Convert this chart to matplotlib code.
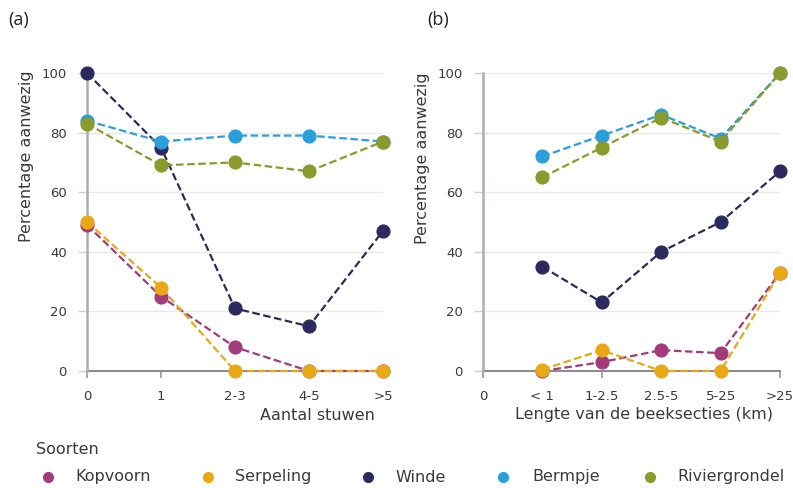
import matplotlib
matplotlib.use("Agg")
import matplotlib.pyplot as plt
from matplotlib.lines import Line2D

plt.rcParams['font.family'] = ['DejaVu Sans']

species = ["Kopvoorn", "Serpeling", "Winde", "Bermpje", "Riviergrondel"]
colors = ["#A33B7B", "#E9A916", "#2C2A5E", "#2A9FDA", "#8A9A2C"]

cats_a = ["0", "1", "2-3", "4-5", ">5"]
vals_a = {
    "Kopvoorn":      [49, 25, 8, 0, 0],
    "Serpeling":     [50, 28, 0, 0, 0],
    "Winde":         [100, 75, 21, 15, 47],
    "Bermpje":       [84, 77, 79, 79, 77],
    "Riviergrondel": [83, 69, 70, 67, 77],
}

cats_b = ["0", "< 1", "1-2.5", "2.5-5", "5-25", ">25"]
vals_b = {
    "Kopvoorn":      [0, 3, 7, 6, 33],
    "Serpeling":     [0.5, 7, 0, 0, 33],
    "Winde":         [35, 23, 40, 50, 67],
    "Bermpje":       [72, 79, 86, 78, 100],
    "Riviergrondel": [65, 75, 85, 77, 100],
}

yticks = [0, 20, 40, 60, 80, 100]

W, H = 793, 488
fig = plt.figure(figsize=(W / 100, H / 100), dpi=100)

def fx(px):
    return px / W

def fy(py):
    return 1 - py / H

TXT = "#3a3a3a"

def style_axes(ax):
    ax.set_ylim(0, 100)
    ax.set_yticks(yticks)
    ax.grid(axis='y', color='#e8e8e8', lw=1.0, zorder=0)
    ax.set_axisbelow(True)
    for s in ['top', 'right']:
        ax.spines[s].set_visible(False)
    ax.spines['left'].set_color('#b3abab')
    ax.spines['left'].set_linewidth(1.8)
    ax.spines['bottom'].set_color('#8c8c8c')
    ax.spines['bottom'].set_linewidth(1.5)
    ax.spines['bottom'].set_zorder(1)
    ax.tick_params(axis='y', length=6.5, width=1, color='#cfcfcf', pad=8,
                   labelsize=9.5, labelcolor=TXT)
    ax.tick_params(axis='x', length=5, width=1.2, color='#9a9a9a', pad=9,
                   labelsize=9.5, labelcolor=TXT)

# Panel (a)
ax_a = fig.add_axes([fx(87), fy(371), fx(383) - fx(87), fy(73) - fy(371)])
xa = list(range(len(cats_a)))
for sp, c in zip(species, colors):
    ax_a.plot(xa, vals_a[sp], color=c, lw=1.6, ls=(0, (3.4, 1.6)),
              marker='o', ms=9.2, mec=c, mfc=c, clip_on=False, zorder=3)
ax_a.set_xlim(0, 4)
ax_a.set_xticks(xa)
ax_a.set_xticklabels(cats_a)
style_axes(ax_a)

# Panel (b)
ax_b = fig.add_axes([fx(483), fy(371), fx(780) - fx(483), fy(73) - fy(371)])
xb = list(range(1, len(cats_b)))
for sp, c in zip(species, colors):
    ax_b.plot(xb, vals_b[sp], color=c, lw=1.6, ls=(0, (3.4, 1.6)),
              marker='o', ms=9.2, mec=c, mfc=c, clip_on=False, zorder=3)
ax_b.set_xlim(0, 5)
ax_b.set_xticks(range(len(cats_b)))
ax_b.set_xticklabels(cats_b)
style_axes(ax_b)

# Axis labels
fig.text(fx(375), fy(415), "Aantal stuwen", ha='right', va='center',
         fontsize=11.5, color=TXT)
fig.text(fx(773), fy(415), "Lengte van de beeksecties (km)", ha='right',
         va='center', fontsize=11.5, color=TXT)
fig.text(fx(27), fy(70), "Percentage aanwezig", rotation=90, ha='center',
         va='top', fontsize=11.5, color=TXT)
fig.text(fx(422), fy(72), "Percentage aanwezig", rotation=90, ha='center',
         va='top', fontsize=11.5, color=TXT)

# Panel labels
fig.text(fx(8), fy(20), "(a)", ha='left', va='center', fontsize=13,
         family='Open Sans', color='#222222')
fig.text(fx(427), fy(20), "(b)", ha='left', va='center', fontsize=13,
         family='Open Sans', color='#222222')

# Legend
fig.text(fx(36), fy(450), "Soorten", ha='left', va='center', fontsize=11.5,
         color=TXT)
leg_marker_x = [48, 208, 368, 503, 650]
leg_text_x = [75, 235, 395, 532, 677]
for sp, c, mx, tx in zip(species, colors, leg_marker_x, leg_text_x):
    fig.add_artist(Line2D([fx(mx)], [fy(477)], transform=fig.transFigure,
                          marker='o', ms=7, color=c, lw=0))
    fig.text(fx(tx), fy(477), sp, ha='left', va='center', fontsize=11.5,
             color=TXT)

fig.savefig("out.png", dpi=100)
